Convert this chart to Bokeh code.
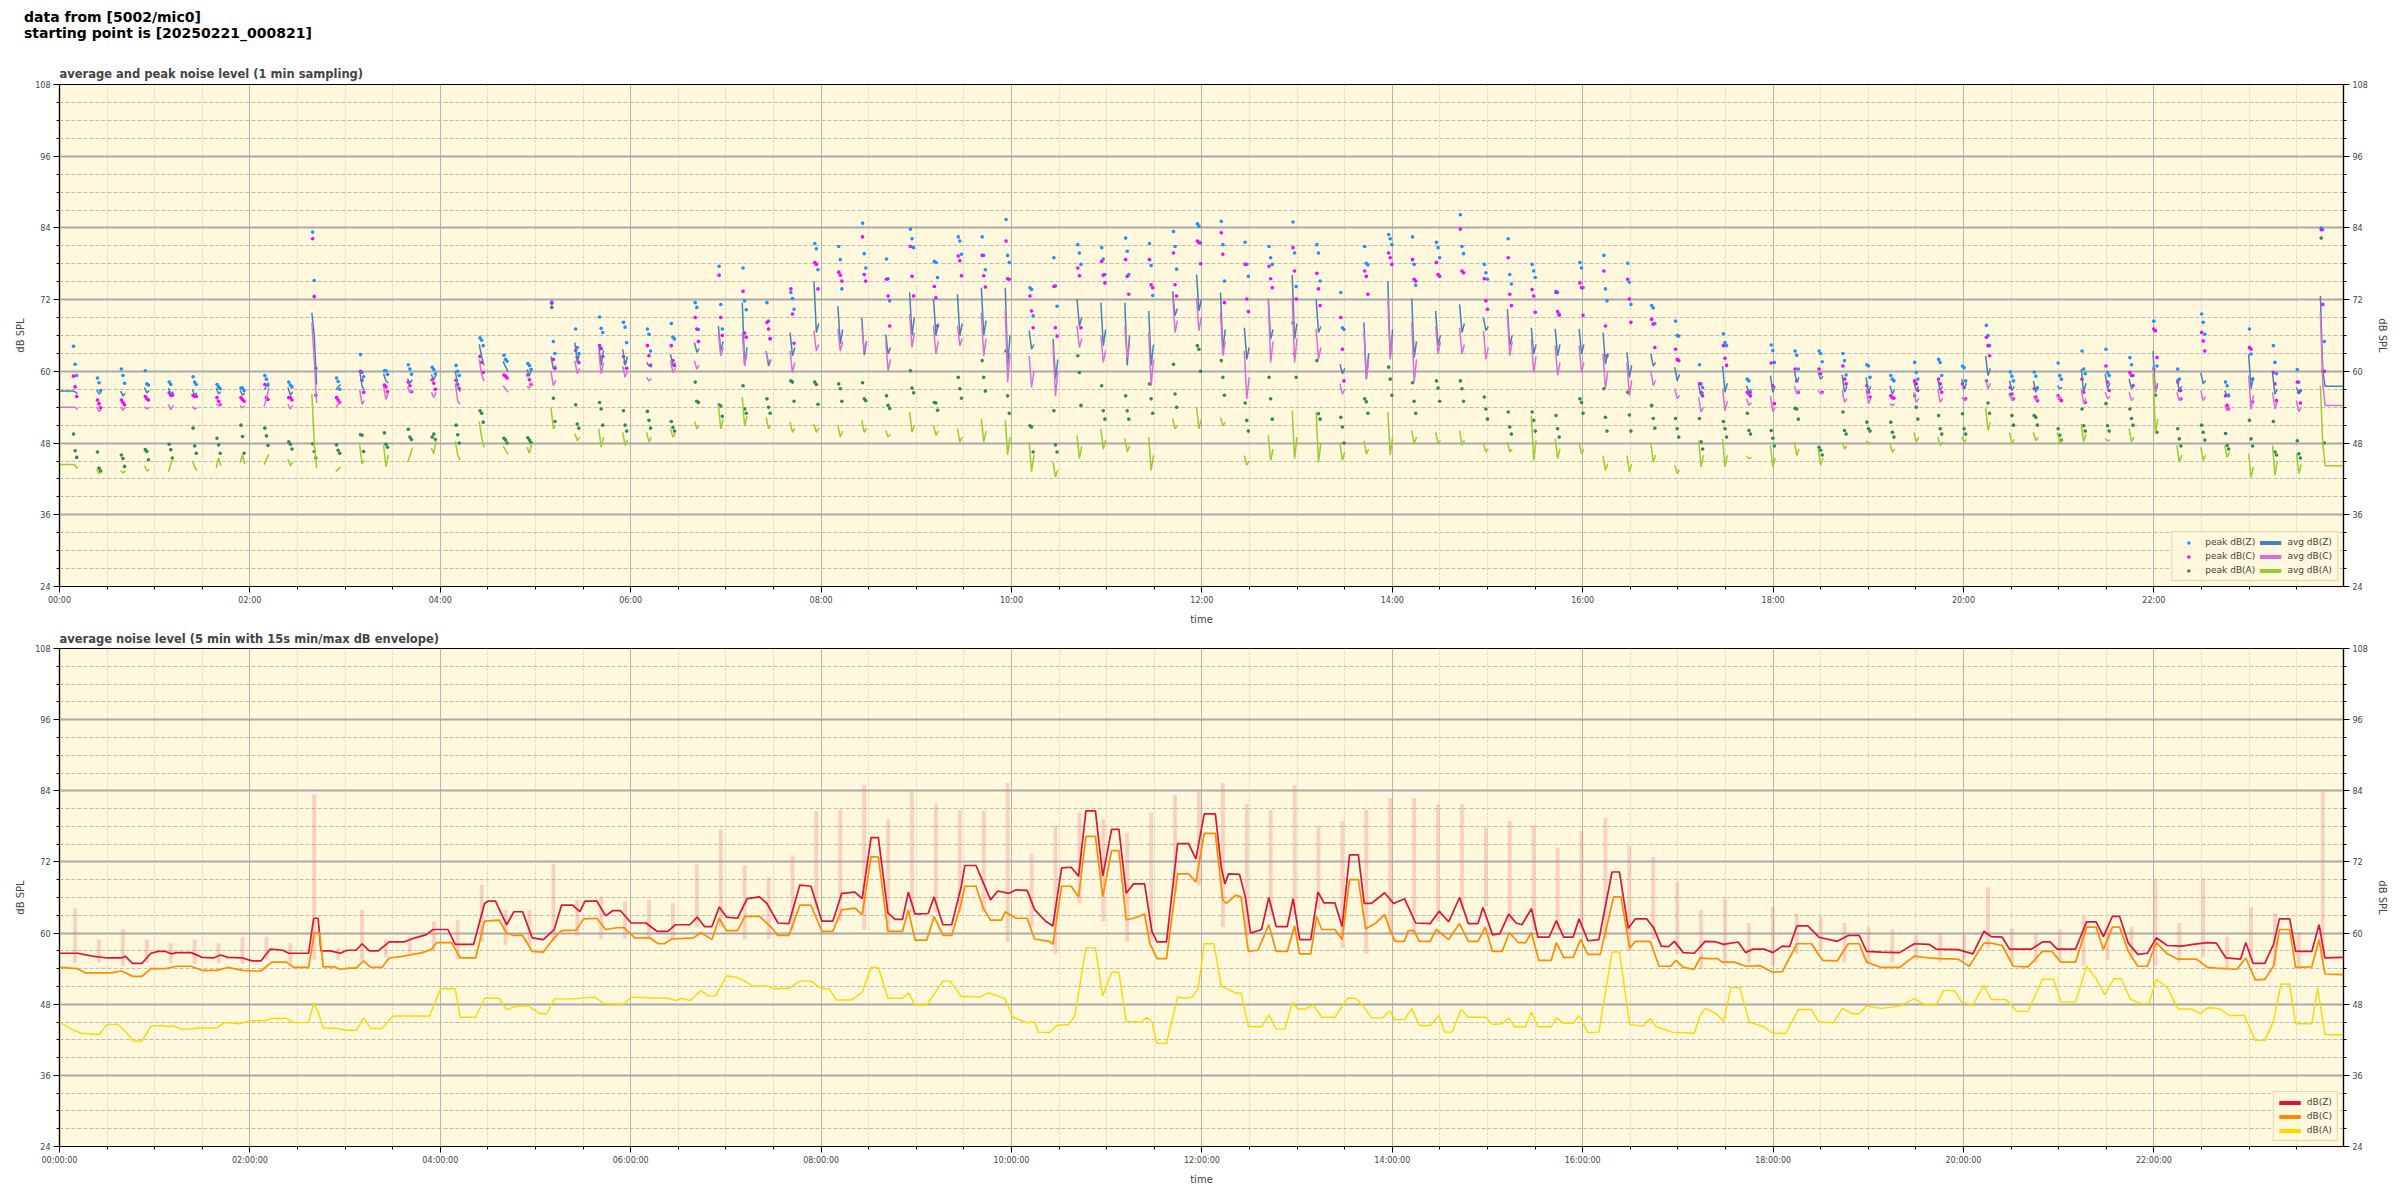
import math
from bokeh.plotting import figure
from bokeh.models import (ColumnDataSource, FixedTicker, LinearAxis, Legend,
                          LegendItem, Div, Range1d)
from bokeh.layouts import column
from bokeh.embed import file_html
from bokeh.resources import INLINE

# ---------------------------------------------------------------- texts
SUPTITLE = ["data from [5002/mic0]", "starting point is [20250221_000821]"]
TITLE_TOP = "average and peak noise level (1 min sampling)"
TITLE_BOT = "average noise level (5 min with 15s min/max dB envelope)"
X_LABEL = "time"
Y_LABEL = "dB SPL"

# ---------------------------------------------------------------- axes
X_TICKS = [0, 120, 240, 360, 480, 600, 720, 840, 960, 1080, 1200, 1320]   # minutes
TOP_TICK_LABELS = ["00:00", "02:00", "04:00", "06:00", "08:00", "10:00",
                   "12:00", "14:00", "16:00", "18:00", "20:00", "22:00"]
BOT_TICK_LABELS = ["00:00:00", "02:00:00", "04:00:00", "06:00:00", "08:00:00", "10:00:00",
                   "12:00:00", "14:00:00", "16:00:00", "18:00:00", "20:00:00", "22:00:00"]
X_MINOR = [m for m in range(30, 1440, 30) if m % 120]
Y_TICKS = [24, 36, 48, 60, 72, 84, 96, 108]
Y_MINOR = [v for v in range(24, 109, 3) if v % 12]
X_END = 1439.5

# ---------------------------------------------------------------- top panel data
# recording bursts (1 min sampling), one every ~15 min starting 00:08
FIRST_BURST_MIN = 8.35
BURST_PERIOD_MIN = 15.07
AVG_OFFS = [0.0, 1.5, 3.0]
PEAK_OFFS = [0.5, 1.5, 2.5]

avg_z = [
    (56.7, 56.6, 56.2), (56.9, 56.2, 56.6), (56.7, 55.9, 56.3), (57.3, 56.4, 56.8), (57.2, 56.2, 56.6),
    (57.0, 56.0, 56.4), (57.2, 56.2, 56.6), (56.8, 56.0, 56.4), (56.9, 57.5, 58.1), (57.3, 56.0, 56.6),
    (69.8, 66.0, 57.8), (56.9, 57.4, 57.8), (60.1, 57.5, 56.8), (59.6, 58.4, 58.0), (58.8, 58.0, 58.6),
    (59.5, 58.6, 59.5), (60.1, 57.5, 56.6), (64.5, 62.5, 61.0), (61.7, 60.8, 60.0), (60.3, 59.2, 60.6),
    (62.5, 60.4, 61.0), (64.8, 61.5, 63.0), (64.3, 61.0, 63.5), (63.7, 61.0, 62.5), (61.5, 60.9, 61.3),
    (62.9, 60.9, 61.5), (64.8, 63.2, 63.8), (67.6, 63.4, 65.0), (71.5, 61.0, 64.0), (63.4, 60.9, 62.0),
    (66.5, 62.6, 64.0), (75.1, 66.5, 68.0), (70.9, 64.6, 67.0), (69.0, 62.7, 65.0), (66.2, 62.9, 64.0),
    (73.2, 66.0, 69.0), (72.1, 66.0, 68.0), (72.9, 66.0, 68.0), (74.0, 66.0, 68.5), (74.0, 61.0, 66.0),
    (66.8, 63.7, 64.5), (65.4, 58.7, 62.0), (72.1, 67.6, 69.0), (71.5, 64.3, 67.0), (71.5, 61.0, 66.0),
    (70.1, 61.0, 64.5), (73.4, 69.3, 70.5), (76.2, 70.1, 72.0), (73.2, 63.7, 67.0), (67.3, 62.0, 64.0),
    (72.2, 65.4, 67.0), (76.1, 65.4, 68.0), (72.1, 66.5, 67.5), (61.2, 59.6, 60.5), (68.2, 58.7, 63.0),
    (75.1, 62.3, 67.0), (72.2, 62.3, 65.0), (70.1, 64.3, 66.0), (71.2, 66.5, 68.0), (69.0, 66.8, 67.5),
    (70.4, 64.3, 66.0), (67.3, 62.9, 64.5), (67.1, 62.6, 64.5), (67.1, 62.9, 64.5), (66.5, 61.2, 63.0),
    (63.2, 59.0, 61.0), (62.9, 60.9, 61.5), (60.7, 58.4, 59.5), (57.6, 55.9, 56.5), (60.9, 56.5, 58.0),
    (57.6, 56.5, 57.0), (59.3, 56.5, 57.5), (60.1, 58.2, 59.0), (59.8, 58.7, 59.2), (59.4, 56.5, 57.5),
    (59.0, 56.5, 57.5), (57.6, 56.2, 57.0), (58.2, 56.8, 57.5), (58.7, 56.8, 57.5), (58.7, 57.1, 58.0),
    (62.6, 59.3, 60.5), (58.4, 56.8, 57.5), (58.4, 56.5, 57.5), (57.6, 57.1, 57.3), (60.4, 56.5, 58.0),
    (59.6, 57.1, 58.0), (58.7, 57.1, 57.8), (63.4, 56.5, 58.0), (58.7, 56.8, 57.5), (59.8, 57.9, 58.5),
    (56.8, 55.9, 56.3), (62.9, 57.1, 59.0), (59.6, 56.2, 57.0), (57.3, 56.2, 56.8), (72.6, 60.0, 57.5),
]
avg_c = [
    (54.0, 54.0, 53.6), (54.0, 53.3, 53.6), (54.0, 53.5, 54.0), (54.1, 53.7, 54.0), (54.5, 53.6, 54.3),
    (54.1, 53.7, 53.9), (54.5, 54.2, 54.6), (54.3, 53.9, 54.2), (54.1, 55.5, 57.3), (54.5, 53.7, 54.3),
    (68.2, 62.0, 54.7), (53.9, 54.5, 54.9), (56.9, 54.5, 55.1), (57.5, 55.3, 56.5), (57.4, 56.4, 56.9),
    (56.5, 55.6, 56.5), (58.0, 55.0, 54.5), (62.0, 59.5, 58.4), (57.6, 57.1, 56.5), (57.5, 57.2, 58.2),
    (60.0, 57.6, 58.5), (61.8, 59.6, 60.5), (63.2, 59.6, 61.5), (60.9, 59.0, 60.0), (59.0, 58.4, 58.8),
    (61.8, 59.8, 60.5), (61.8, 60.4, 61.0), (66.5, 62.6, 64.0), (66.5, 61.0, 63.0), (63.2, 61.5, 62.0),
    (63.4, 59.8, 61.5), (66.8, 63.4, 64.5), (67.1, 63.4, 65.0), (67.6, 63.4, 65.0), (65.1, 60.1, 62.0),
    (69.6, 64.0, 66.5), (67.6, 62.9, 65.0), (67.6, 64.3, 65.5), (69.8, 62.6, 65.5), (70.4, 58.2, 63.0),
    (62.6, 57.3, 60.0), (64.3, 55.9, 60.0), (67.6, 64.0, 65.5), (66.0, 61.5, 63.5), (67.6, 62.3, 64.5),
    (66.5, 57.6, 62.0), (72.9, 66.5, 68.5), (72.3, 66.8, 69.0), (69.8, 62.6, 65.0), (63.4, 55.4, 59.0),
    (72.1, 61.5, 65.0), (72.3, 61.5, 65.5), (67.1, 62.0, 64.0), (57.9, 56.2, 57.0), (66.5, 58.7, 62.0),
    (72.1, 62.0, 66.0), (68.2, 58.2, 62.0), (67.6, 62.9, 65.0), (67.3, 62.9, 64.5), (66.8, 62.0, 64.0),
    (69.6, 62.6, 65.0), (65.4, 59.8, 62.5), (64.3, 59.3, 61.5), (64.3, 59.8, 61.5), (62.9, 57.1, 60.0),
    (61.5, 55.9, 58.5), (60.1, 57.6, 58.5), (57.1, 55.4, 56.0), (55.7, 53.2, 54.0), (57.1, 53.4, 55.0),
    (55.4, 54.3, 54.8), (55.9, 53.2, 54.0), (57.6, 56.2, 57.0), (56.8, 56.2, 56.5), (56.8, 54.8, 55.5),
    (57.1, 54.6, 55.5), (54.6, 54.3, 54.5), (56.5, 54.8, 55.5), (57.1, 54.8, 55.5), (55.7, 55.1, 55.4),
    (58.7, 57.1, 58.0), (56.2, 55.1, 55.6), (55.9, 55.1, 55.5), (55.9, 55.4, 55.6), (57.1, 54.6, 55.5),
    (56.5, 55.4, 55.9), (56.5, 55.1, 55.6), (60.9, 56.5, 57.5), (56.5, 55.1, 55.7), (56.8, 55.1, 55.8),
    (54.3, 53.4, 53.8), (59.3, 53.7, 56.0), (56.5, 53.7, 55.0), (55.1, 53.2, 54.0), (69.8, 58.0, 54.3),
]
avg_a = [
    (44.4, 44.3, 43.7), (43.6, 42.9, 43.2), (43.4, 43.0, 43.3), (44.2, 43.3, 43.6), (43.2, 44.5, 45.4),
    (45.0, 44.0, 43.4), (43.8, 45.5, 44.2), (44.7, 46.0, 44.5), (44.4, 45.3, 46.1), (45.3, 44.2, 44.8),
    (56.2, 48.0, 43.8), (43.2, 43.6, 44.0), (47.7, 44.5, 45.2), (47.7, 44.0, 46.0), (44.8, 45.8, 47.2),
    (47.2, 46.2, 48.5), (48.3, 46.0, 45.1), (51.6, 49.0, 47.3), (47.5, 46.8, 46.1), (47.3, 46.3, 48.0),
    (54.0, 50.4, 51.0), (49.6, 48.4, 49.0), (50.4, 47.3, 49.0), (49.8, 47.6, 48.5), (49.8, 48.2, 49.0),
    (50.4, 49.0, 49.6), (51.6, 50.4, 51.0), (54.5, 50.4, 52.0), (55.7, 50.9, 52.5), (52.3, 50.4, 51.0),
    (51.5, 49.8, 50.5), (51.2, 49.8, 50.5), (51.0, 49.0, 50.0), (51.8, 49.8, 50.5), (50.1, 49.0, 49.5),
    (53.2, 49.8, 51.0), (51.0, 49.3, 50.0), (50.4, 48.2, 49.0), (52.1, 48.2, 50.0), (51.8, 46.0, 49.0),
    (48.2, 43.2, 46.0), (44.8, 42.3, 43.5), (49.3, 45.4, 47.5), (50.4, 47.0, 48.5), (48.8, 46.5, 47.5),
    (49.0, 43.4, 46.0), (52.1, 50.4, 51.0), (54.0, 50.4, 52.0), (52.3, 50.9, 51.5), (45.9, 44.3, 45.0),
    (49.3, 45.1, 47.0), (53.4, 45.4, 49.0), (53.2, 44.8, 48.0), (47.9, 45.1, 46.5), (48.4, 46.2, 47.0),
    (53.2, 46.0, 49.0), (50.1, 47.9, 49.0), (49.8, 47.9, 48.5), (50.1, 47.6, 48.5), (47.9, 46.5, 47.0),
    (48.2, 46.5, 47.0), (52.6, 45.1, 48.5), (48.7, 45.4, 47.0), (47.9, 46.2, 47.0), (45.9, 43.4, 44.5),
    (45.9, 43.2, 44.5), (47.9, 44.8, 46.0), (44.3, 42.9, 43.5), (48.4, 44.0, 46.0), (48.7, 44.0, 46.0),
    (45.9, 45.4, 45.6), (47.6, 44.0, 45.5), (48.2, 45.9, 47.0), (47.0, 44.3, 45.5), (48.2, 47.0, 47.5),
    (48.4, 47.9, 48.1), (47.9, 46.5, 47.0), (49.8, 48.2, 49.0), (49.0, 47.6, 48.2), (49.0, 48.2, 48.6),
    (54.0, 50.1, 51.5), (49.8, 47.9, 48.6), (49.8, 48.4, 49.0), (49.8, 47.9, 48.8), (51.2, 48.2, 49.5),
    (48.7, 48.4, 48.5), (50.4, 48.2, 49.0), (59.6, 49.6, 52.0), (47.6, 44.8, 46.0), (47.3, 45.1, 46.0),
    (47.6, 45.6, 46.5), (46.2, 42.3, 44.0), (47.6, 42.6, 45.0), (46.2, 42.9, 44.5), (57.6, 48.0, 44.2),
]
peak_z = [
    (64.2, 61.2, 59.3), (58.9, 58.1, 56.8), (60.4, 59.3, 58.0), (60.1, 57.9, 57.7), (58.2, 57.8, 56.2),
    (59.1, 58.2, 57.8), (57.8, 57.4, 57.1), (57.2, 57.2, 56.8), (59.3, 58.7, 57.7), (58.2, 57.7, 57.4),
    (83.3, 75.2, 60.5), (58.9, 58.3, 57.0), (62.8, 59.8, 59.1), (60.1, 60.1, 59.5), (61.1, 60.4, 59.5),
    (60.7, 60.3, 59.6), (61.0, 60.0, 59.3), (65.6, 65.2, 64.3), (62.7, 62.0, 61.7), (61.3, 61.0, 60.3),
    (71.6, 65.0, 63.0), (67.1, 64.0, 63.0), (69.1, 67.2, 66.5), (68.2, 67.4, 64.8), (67.1, 66.2, 63.4),
    (68.0, 65.7, 65.4), (71.5, 70.7, 67.0), (77.6, 71.2, 67.1), (77.3, 71.8, 70.3), (71.5, 68.4, 65.4),
    (73.2, 72.2, 70.4), (81.4, 80.5, 77.0), (80.9, 78.7, 73.8), (84.8, 79.7, 77.3), (78.8, 75.5, 71.8),
    (83.8, 82.2, 80.7), (78.4, 78.2, 75.7), (82.5, 81.8, 79.6), (82.5, 79.4, 77.0), (85.4, 79.4, 78.2),
    (74.0, 73.7, 69.3), (79.0, 74.3, 70.9), (81.2, 79.8, 77.9), (80.7, 78.8, 76.2), (82.3, 80.1, 76.2),
    (81.4, 77.7, 72.7), (83.4, 80.9, 77.1), (84.7, 84.3, 81.5), (85.1, 81.2, 75.1), (81.6, 77.9, 75.9),
    (80.9, 79.0, 77.9), (85.0, 79.8, 74.2), (81.2, 79.8, 75.1), (73.2, 67.3, 67.0), (80.9, 78.1, 77.8),
    (82.9, 82.2, 81.2), (82.5, 77.9, 74.4), (81.6, 80.7, 79.0), (86.2, 80.9, 79.7), (77.9, 76.5, 75.4),
    (82.2, 76.2, 74.6), (77.9, 76.8, 75.7), (73.4, 73.2, 69.6), (78.2, 77.3, 74.0), (79.4, 73.8, 71.8),
    (78.1, 74.9, 71.2), (71.0, 70.6, 68.0), (68.4, 66.0, 65.9), (61.1, 57.9, 57.3), (66.3, 64.8, 64.3),
    (58.7, 58.4, 56.5), (64.4, 63.5, 61.5), (63.4, 62.7, 60.4), (63.4, 63.0, 61.6), (63.0, 61.8, 59.4),
    (61.1, 60.9, 59.0), (59.3, 58.7, 58.4), (61.5, 59.8, 58.7), (62.0, 61.5, 59.3), (60.9, 60.6, 58.4),
    (67.7, 66.0, 64.3), (59.9, 59.2, 58.4), (59.9, 59.2, 57.2), (61.4, 59.3, 58.7), (63.4, 60.4, 59.6),
    (63.7, 59.8, 59.3), (62.3, 61.1, 59.3), (68.4, 66.8, 60.9), (60.4, 58.7, 56.8), (69.6, 68.2, 66.2),
    (58.2, 57.6, 55.9), (67.1, 62.9, 58.7), (64.3, 61.5, 59.6), (60.3, 58.2, 56.8), (84.0, 83.7, 65.0),
]
peak_c = [
    (59.2, 57.4, 55.8), (55.2, 54.6, 53.9), (55.2, 54.8, 54.4), (55.8, 55.4, 55.2), (56.4, 56.0, 56.0),
    (56.0, 55.8, 55.8), (55.6, 55.0, 54.4), (55.6, 55.3, 55.0), (57.8, 55.6, 55.3), (55.6, 55.6, 55.2),
    (82.2, 72.5, 56.0), (55.6, 55.2, 54.8), (60.0, 58.5, 56.5), (57.7, 57.4, 56.6), (58.2, 57.6, 56.6),
    (58.6, 58.0, 57.0), (58.5, 57.8, 57.1), (62.5, 61.5, 59.8), (59.4, 59.2, 58.9), (59.4, 58.6, 57.8),
    (71.4, 62.0, 60.5), (63.5, 62.3, 61.5), (64.3, 63.8, 62.5), (62.5, 61.5, 60.5), (64.3, 62.6, 61.0),
    (64.3, 61.8, 61.0), (69.0, 67.1, 65.0), (76.1, 69.0, 66.0), (73.4, 66.4, 65.7), (68.2, 67.1, 65.5),
    (73.8, 69.6, 64.7), (78.2, 77.9, 73.8), (76.6, 76.1, 75.1), (82.5, 76.2, 75.1), (75.4, 72.6, 67.6),
    (80.9, 75.9, 72.6), (74.2, 72.3, 67.6), (79.3, 78.5, 76.0), (79.4, 76.0, 74.1), (81.8, 75.5, 75.4),
    (72.6, 70.1, 67.3), (74.2, 67.3, 65.9), (77.3, 76.0, 67.3), (78.4, 76.1, 74.8), (78.7, 75.9, 72.9),
    (78.7, 74.5, 74.0), (79.8, 74.5, 72.6), (81.8, 81.5, 78.0), (83.2, 79.6, 71.5), (77.9, 72.1, 70.0),
    (77.6, 75.5, 74.0), (80.7, 76.8, 72.1), (76.4, 73.8, 71.0), (69.0, 63.7, 58.4), (76.8, 75.9, 72.9),
    (79.8, 79.0, 77.9), (78.7, 75.4, 75.1), (78.2, 76.2, 75.9), (83.8, 76.8, 76.5), (75.5, 71.8, 70.4),
    (79.0, 72.9, 71.0), (73.7, 72.6, 69.9), (73.2, 70.0, 69.4), (74.8, 74.0, 69.4), (76.8, 67.6, 62.6),
    (75.4, 72.1, 68.2), (68.7, 67.9, 64.0), (63.7, 62.0, 61.8), (57.9, 56.5, 55.9), (64.3, 62.2, 61.0),
    (56.5, 56.2, 55.9), (61.4, 57.6, 54.6), (60.4, 58.4, 56.5), (60.4, 59.6, 56.5), (60.9, 58.7, 57.9),
    (57.6, 56.5, 55.7), (55.9, 55.6, 55.5), (58.4, 57.9, 56.8), (58.7, 57.9, 56.5), (57.9, 57.3, 55.4),
    (65.7, 64.3, 62.6), (57.3, 56.2, 55.4), (57.1, 55.7, 55.1), (55.9, 55.4, 55.1), (58.7, 56.5, 54.8),
    (60.9, 58.2, 56.8), (59.8, 59.3, 57.6), (67.1, 66.8, 62.3), (58.2, 56.8, 55.4), (66.5, 65.1, 63.4),
    (55.9, 54.3, 53.7), (64.0, 63.7, 54.9), (59.8, 57.9, 55.1), (58.2, 56.5, 54.7), (83.7, 71.2, 60.0),
]
peak_a = [
    (49.5, 46.7, 45.6), (46.5, 43.8, 43.3), (46.0, 45.4, 44.1), (46.9, 46.6, 45.2), (47.8, 46.9, 45.5),
    (50.5, 47.5, 46.3), (48.8, 47.7, 46.3), (51.0, 49.1, 46.3), (50.5, 49.2, 47.6), (48.2, 47.8, 47.0),
    (47.9, 46.6, 45.5), (47.7, 46.8, 46.3), (49.4, 49.3, 46.6), (49.7, 47.8, 47.3), (50.3, 49.0, 48.6),
    (49.0, 49.5, 48.6), (51.0, 49.4, 48.0), (53.4, 53.0, 51.5), (48.8, 48.5, 48.0), (48.9, 48.5, 48.1),
    (70.7, 55.5, 51.6), (54.4, 51.2, 50.5), (54.8, 53.7, 51.0), (53.4, 51.0, 50.0), (53.3, 51.8, 50.5),
    (51.6, 50.6, 50.0), (58.2, 55.0, 54.8), (54.4, 54.2, 52.5), (57.6, 53.7, 53.0), (55.4, 54.0, 53.0),
    (58.4, 58.2, 55.0), (58.2, 57.8, 54.5), (57.9, 57.1, 55.0), (58.1, 55.4, 55.1), (55.9, 54.3, 53.8),
    (60.1, 57.2, 56.4), (54.8, 54.7, 53.5), (59.0, 57.1, 55.5), (61.8, 59.0, 56.7), (63.4, 55.9, 53.0),
    (50.9, 50.7, 46.5), (53.4, 47.7, 46.5), (62.6, 59.8, 54.3), (57.6, 53.4, 52.0), (55.9, 53.4, 52.0),
    (57.9, 55.4, 53.0), (61.2, 56.2, 54.0), (64.3, 63.7, 60.0), (61.8, 59.0, 56.0), (54.7, 51.8, 50.0),
    (59.0, 55.4, 52.0), (68.1, 62.9, 59.0), (61.8, 52.9, 52.0), (52.3, 50.7, 48.0), (55.4, 54.9, 53.0),
    (60.7, 58.7, 56.0), (58.1, 55.0, 53.0), (58.4, 57.2, 55.0), (58.4, 57.1, 55.0), (55.7, 53.7, 52.0),
    (53.2, 50.7, 49.5), (53.2, 51.8, 50.0), (52.6, 50.4, 49.0), (55.4, 54.8, 53.0), (57.1, 52.3, 50.0),
    (56.5, 52.7, 50.0), (54.3, 52.1, 50.5), (52.1, 50.4, 49.0), (52.1, 48.2, 47.0), (51.6, 50.4, 49.0),
    (53.0, 50.1, 49.5), (50.1, 48.8, 47.5), (53.8, 53.7, 52.0), (47.3, 46.8, 46.0), (53.2, 50.1, 49.5),
    (51.5, 50.4, 50.0), (51.5, 49.8, 49.0), (55.9, 54.0, 52.0), (52.6, 50.4, 49.5), (52.9, 50.4, 49.5),
    (58.4, 54.7, 53.0), (56.1, 52.6, 51.0), (52.6, 52.3, 51.0), (50.4, 49.3, 48.5), (53.7, 50.9, 50.0),
    (54.6, 50.9, 50.0), (53.7, 52.1, 51.0), (60.4, 56.0, 49.8), (50.4, 48.7, 47.5), (51.0, 49.8, 48.5),
    (49.6, 47.6, 47.0), (51.8, 48.7, 47.5), (51.6, 46.5, 46.0), (48.4, 46.2, 45.5), (82.3, 60.0, 48.0),
]

# ---------------------------------------------------------------- bottom panel data
# 15 s min/max envelope of dB(Z) around each burst
env_hi = [64.2, 58.9, 60.6, 58.9, 58.3, 58.9, 58.3, 59.4, 59.4, 58.3,
          83.4, 57.5, 63.9, 58.9, 59.4, 61.9, 62.2, 68.1, 63.9, 63.9,
          71.7, 65.6, 66.1, 65.3, 65.6, 65.0, 71.6, 77.5, 71.4, 69.4,
          73.1, 80.6, 80.8, 85.0, 79.2, 83.9, 81.7, 80.8, 80.6, 85.3,
          73.3, 78.1, 80.3, 79.2, 76.9, 80.3, 83.3, 83.9, 85.3, 81.7,
          80.8, 85.0, 78.1, 78.9, 80.8, 82.8, 82.8, 81.7, 81.7, 77.8,
          78.9, 78.1, 74.4, 77.2, 79.4, 74.7, 72.8, 68.6, 63.9, 65.8,
          61.7, 64.4, 63.3, 62.8, 61.7, 61.1, 60.6, 59.7, 60.0, 59.7,
          67.7, 60.8, 60.0, 60.6, 62.8, 61.1, 61.1, 68.9, 61.7, 69.2,
          59.4, 64.4, 63.3, 60.0, 83.9]
env_lo = [55.0, 55.0, 54.5, 55.0, 55.0, 54.8, 55.0, 54.8, 55.5, 54.8,
          55.5, 55.5, 55.5, 56.0, 56.5, 57.0, 55.5, 58.5, 58.0, 58.0,
          58.5, 59.5, 59.0, 59.0, 59.0, 59.0, 61.0, 61.0, 59.0, 59.0,
          60.5, 64.0, 62.0, 60.5, 60.5, 63.5, 63.5, 63.5, 63.5, 58.5,
          61.0, 56.5, 65.0, 62.0, 58.5, 58.5, 67.0, 68.0, 61.0, 59.5,
          63.0, 63.0, 64.0, 57.5, 56.5, 60.0, 60.0, 62.0, 64.0, 64.5,
          62.0, 60.5, 60.5, 60.5, 59.0, 57.0, 59.0, 56.5, 54.0, 54.5,
          55.0, 54.5, 56.5, 57.0, 55.0, 55.0, 55.0, 55.5, 55.0, 55.5,
          57.5, 55.0, 55.0, 55.5, 54.5, 55.5, 55.5, 54.5, 55.0, 56.0,
          54.0, 55.0, 54.5, 54.5, 55.5]

# 5-min average lines: (minute of day, dB)
line_z = [
    (0, 56.6), (11.4, 56.6), (20.6, 56.1), (29.9, 55.8), (39.1, 55.8), (41.4, 56.1), (46.0, 54.9), (52.0, 54.9),
    (57.6, 56.6), (62.2, 56.9), (66.8, 56.9), (70.5, 56.5), (73.8, 56.7), (83.0, 56.7), (90.0, 55.9), (96.9, 55.8),
    (101.5, 56.3), (106.1, 55.9), (115.4, 55.8), (121.4, 55.3), (126.9, 55.3), (132.9, 57.3), (140.8, 57.1),
    (144.5, 56.6), (157.0, 56.6), (160.2, 62.5), (163.0, 62.5), (164.8, 57.0), (170.8, 57.0), (176.8, 56.6),
    (181.5, 57.1), (187.0, 57.1), (190.7, 58.2), (195.3, 57.0), (200.9, 57.0), (207.8, 58.5), (217.1, 58.5),
    (224.0, 59.2), (230.9, 59.7), (235.5, 60.6), (244.8, 60.6), (249.4, 58.1), (261.0, 58.1), (267.9, 65.0),
    (270.2, 65.4), (274.8, 65.4), (281.8, 61.4), (286.4, 63.6), (291.9, 63.6), (297.9, 59.2), (304.9, 58.9),
    (311.8, 60.6), (316.4, 64.7), (323.4, 64.7), (328.0, 63.6), (331.2, 65.4), (338.6, 65.4), (344.2, 62.9),
    (348.8, 63.8), (353.4, 63.8), (360.3, 61.7), (369.6, 61.7), (376.5, 60.3), (383.4, 60.3), (388.1, 61.4),
    (397.3, 61.4), (401.9, 62.7), (406.5, 61.1), (411.2, 61.1), (415.8, 64.4), (420.4, 62.7), (427.3, 62.5),
    (433.4, 65.8), (441.2, 66.1), (445.8, 65.0), (452.8, 61.7), (459.7, 61.6), (466.6, 68.1), (473.6, 67.9),
    (480.5, 62.0), (487.4, 62.0), (493.0, 66.7), (501.3, 66.9), (505.9, 65.8), (511.5, 76.1), (516.1, 76.1),
    (522.1, 63.4), (526.7, 62.3), (531.3, 62.3), (535.0, 66.9), (539.2, 63.2), (547.5, 63.3), (551.2, 66.1),
    (556.8, 61.4), (562.3, 61.4), (568.3, 67.8), (570.6, 71.4), (577.6, 71.4), (580.8, 69.4), (586.8, 65.6),
    (591.4, 67.1), (598.4, 66.7), (603.0, 67.3), (609.9, 67.2), (614.5, 64.0), (621.5, 62.0), (626.1, 61.2),
    (631.6, 71.0), (637.6, 71.1), (642.3, 69.6), (646.9, 80.6), (652.9, 80.6), (657.5, 69.6), (663.1, 77.5),
    (667.7, 77.5), (672.3, 66.7), (676.9, 68.3), (683.9, 68.3), (688.5, 60.3), (691.7, 58.5), (697.7, 58.5),
    (704.7, 75.1), (711.6, 75.1), (716.2, 72.5), (721.5, 80.1), (728.5, 80.1), (732.2, 71.1), (734.5, 68.3),
    (736.8, 70.0), (743.7, 69.9), (747.4, 66.1), (750.7, 60.0), (757.6, 60.6), (762.2, 66.0), (766.8, 61.1),
    (773.8, 61.1), (777.5, 65.8), (781.6, 58.9), (788.6, 58.9), (793.2, 66.9), (796.9, 65.1), (803.8, 65.1),
    (808.4, 61.1), (813.1, 73.2), (818.6, 73.2), (822.3, 65.0), (826.9, 65.0), (835.2, 66.8), (840.8, 65.0),
    (847.7, 65.8), (854.7, 61.7), (863.9, 61.6), (869.5, 63.7), (875.5, 61.9), (882.4, 66.0), (887.9, 61.6),
    (894.0, 61.6), (897.2, 64.3), (903.2, 59.7), (907.8, 59.9), (913.4, 63.2), (918.0, 61.7), (921.7, 61.4),
    (927.7, 64.1), (931.8, 59.3), (938.8, 59.3), (943.4, 62.1), (948.0, 59.3), (954.0, 59.3), (957.7, 62.4),
    (963.3, 58.7), (970.2, 58.9), (978.5, 70.3), (983.2, 70.3), (988.7, 60.8), (993.3, 62.4), (1000.3, 62.4),
    (1004.9, 60.8), (1009.5, 57.8), (1014.1, 57.7), (1017.8, 58.6), (1023.4, 56.7), (1030.3, 56.6),
    (1037.2, 58.6), (1044.2, 58.5), (1048.8, 58.1), (1058.0, 58.5), (1062.7, 56.7), (1067.3, 57.3),
    (1074.2, 57.3), (1079.8, 56.7), (1085.8, 57.8), (1090.4, 57.7), (1095.0, 61.2), (1101.9, 61.2),
    (1108.9, 59.3), (1120.4, 58.6), (1127.4, 59.6), (1134.3, 59.6), (1138.9, 56.9), (1148.2, 56.8),
    (1159.7, 56.7), (1169.0, 58.2), (1178.2, 58.1), (1182.8, 57.3), (1196.7, 57.2), (1205.9, 56.5),
    (1212.9, 60.3), (1217.5, 59.4), (1224.4, 59.3), (1229.0, 57.3), (1242.9, 57.3), (1249.8, 58.5),
    (1254.5, 58.5), (1259.1, 57.3), (1270.6, 57.3), (1277.6, 61.9), (1283.6, 61.9), (1288.2, 59.4),
    (1293.8, 62.8), (1298.4, 62.8), (1303.9, 58.3), (1309.9, 56.4), (1315.9, 56.6), (1321.5, 59.2),
    (1328.4, 57.9), (1337.7, 57.8), (1344.6, 58.1), (1353.8, 58.4), (1359.4, 58.3), (1365.4, 55.8),
    (1374.6, 55.6), (1377.9, 58.4), (1382.5, 54.9), (1389.9, 54.9), (1395.4, 58.1), (1399.1, 62.4),
    (1405.6, 62.4), (1409.3, 56.9), (1419.5, 56.9), (1424.1, 61.4), (1427.8, 55.8), (1439.5, 55.9),
]
line_c = [
    (0, 54.2), (11.4, 54.0), (16.0, 53.3), (32.2, 53.3), (39.1, 53.6), (46.0, 52.7), (52.0, 52.7), (57.6, 54.0),
    (66.8, 54.0), (73.8, 54.4), (83.0, 54.4), (90.0, 53.7), (99.2, 53.7), (106.1, 54.2), (115.4, 53.7),
    (122.3, 53.6), (126.9, 53.6), (133.8, 55.1), (143.1, 55.1), (147.7, 54.2), (157.0, 54.2), (160.7, 60.1),
    (163.9, 60.0), (166.2, 54.3), (173.1, 54.3), (176.8, 53.9), (182.4, 54.1), (187.0, 54.1), (191.6, 55.3),
    (196.2, 54.2), (203.2, 54.2), (207.8, 55.8), (217.1, 56.1), (228.6, 56.7), (234.1, 57.2), (237.8, 58.4),
    (247.1, 58.4), (252.6, 55.8), (262.3, 55.8), (267.9, 62.0), (277.1, 62.2), (281.8, 60.0), (286.4, 59.6),
    (291.9, 59.6), (297.9, 56.9), (304.9, 56.8), (311.8, 59.2), (316.4, 60.4), (325.7, 60.5), (330.3, 62.4),
    (338.6, 62.5), (344.2, 60.6), (351.1, 60.9), (355.7, 60.9), (362.6, 59.2), (371.9, 59.2), (377.4, 58.2),
    (381.1, 58.2), (385.8, 59.0), (399.6, 59.2), (404.2, 60.1), (411.2, 58.9), (415.8, 62.5), (420.4, 60.4),
    (427.3, 60.4), (432.0, 62.8), (441.2, 62.8), (448.2, 61.1), (452.8, 59.6), (459.7, 59.6), (466.6, 64.7),
    (473.6, 64.7), (480.5, 60.3), (487.4, 60.3), (493.0, 63.9), (501.3, 64.2), (505.9, 63.1), (511.5, 72.9),
    (516.1, 72.8), (522.1, 60.3), (531.3, 60.3), (535.0, 63.9), (539.2, 58.8), (546.6, 58.8), (551.2, 62.8),
    (556.8, 59.6), (562.3, 59.6), (568.3, 65.0), (570.6, 67.9), (577.6, 67.9), (582.2, 64.2), (586.8, 62.2),
    (593.7, 62.2), (596.0, 63.6), (603.0, 62.5), (609.9, 62.5), (614.5, 59.0), (623.8, 58.6), (626.1, 58.1),
    (631.6, 67.9), (637.6, 67.9), (642.3, 66.1), (646.9, 76.3), (652.9, 76.3), (657.5, 66.1), (663.1, 73.9),
    (667.7, 73.9), (672.3, 62.2), (676.9, 62.5), (683.9, 63.2), (687.1, 58.3), (691.7, 55.7), (697.7, 55.7),
    (704.7, 70.0), (711.6, 70.0), (716.2, 68.6), (721.5, 76.8), (728.5, 76.8), (733.1, 65.6), (735.4, 65.0),
    (741.4, 66.4), (744.7, 66.1), (749.3, 56.9), (755.3, 57.1), (762.2, 61.4), (766.8, 56.9), (773.8, 56.9),
    (778.4, 61.2), (781.6, 56.5), (788.6, 56.5), (792.3, 62.8), (795.5, 60.6), (803.8, 60.6), (808.4, 58.9),
    (813.1, 69.0), (818.6, 69.0), (823.2, 60.7), (829.2, 61.6), (835.2, 63.1), (838.5, 60.6), (841.7, 58.6),
    (847.7, 58.6), (850.0, 60.4), (853.7, 60.4), (857.0, 58.6), (863.9, 58.6), (867.6, 60.6), (875.5, 58.9),
    (882.4, 61.6), (887.9, 58.6), (894.0, 58.6), (898.6, 61.0), (903.2, 56.9), (909.2, 56.9), (913.8, 60.1),
    (919.4, 58.4), (924.0, 58.4), (927.7, 60.1), (932.3, 55.4), (940.2, 55.4), (943.4, 58.4), (948.0, 55.9),
    (954.0, 55.9), (958.7, 58.9), (963.3, 56.4), (971.1, 56.4), (979.5, 66.1), (984.1, 66.1), (989.6, 57.5),
    (993.3, 58.6), (1002.6, 58.6), (1008.1, 54.4), (1015.5, 54.4), (1018.7, 55.4), (1023.4, 54.2),
    (1030.3, 53.9), (1034.0, 55.8), (1038.6, 55.7), (1045.1, 55.7), (1047.9, 55.1), (1055.7, 55.1),
    (1062.7, 54.4), (1071.9, 54.5), (1079.8, 53.4), (1085.8, 53.5), (1095.0, 58.2), (1104.2, 58.2),
    (1111.2, 55.4), (1120.4, 55.3), (1127.4, 58.2), (1134.3, 58.2), (1138.9, 55.1), (1148.2, 54.2),
    (1159.7, 54.2), (1169.0, 56.1), (1178.2, 55.8), (1185.1, 55.7), (1196.7, 55.6), (1203.6, 54.4),
    (1212.9, 58.3), (1217.5, 58.3), (1224.4, 57.9), (1231.4, 54.4), (1240.6, 54.3), (1249.8, 56.9),
    (1255.8, 56.9), (1261.4, 55.1), (1270.6, 55.1), (1277.6, 61.0), (1283.6, 61.0), (1288.2, 57.2),
    (1293.8, 61.0), (1298.4, 61.0), (1303.9, 56.9), (1309.9, 54.4), (1315.9, 54.4), (1321.5, 58.4),
    (1328.4, 56.5), (1335.3, 55.6), (1346.9, 55.6), (1353.8, 54.2), (1359.4, 54.1), (1372.3, 53.9),
    (1377.9, 55.8), (1383.9, 52.1), (1389.9, 52.2), (1395.4, 54.4), (1399.1, 60.6), (1405.6, 60.6),
    (1409.3, 54.2), (1419.5, 54.3), (1424.1, 58.9), (1427.8, 53.1), (1439.5, 53.0),
]
line_a = [
    (0, 45.0), (6.7, 43.9), (13.7, 43.1), (25.2, 42.9), (29.9, 44.6), (36.8, 44.6), (43.7, 42.8), (46.0, 41.8),
    (52.0, 41.8), (57.6, 44.3), (64.5, 44.4), (69.1, 44.2), (71.5, 44.4), (77.0, 43.8), (83.0, 43.8),
    (87.6, 44.0), (99.2, 44.0), (103.8, 44.9), (113.1, 44.7), (120.0, 45.2), (129.2, 45.2), (133.8, 45.6),
    (143.1, 45.6), (147.7, 44.9), (157.0, 44.9), (160.2, 48.2), (163.0, 46.7), (166.2, 44.0), (175.4, 43.9),
    (180.1, 43.6), (187.0, 43.6), (191.6, 45.7), (196.2, 43.9), (203.2, 43.9), (210.1, 46.0), (233.2, 46.0),
    (240.2, 50.6), (249.4, 50.6), (252.6, 45.8), (262.3, 45.8), (267.9, 49.0), (277.1, 49.0), (281.8, 47.1),
    (288.7, 47.7), (295.6, 47.7), (302.6, 46.4), (307.2, 46.4), (311.8, 48.9), (323.4, 48.9), (337.2, 49.2),
    (343.2, 48.1), (355.7, 48.0), (360.3, 49.2), (369.6, 49.1), (383.4, 49.0), (388.1, 48.6), (392.7, 49.0),
    (397.3, 48.6), (404.2, 50.3), (408.9, 49.4), (413.5, 49.4), (420.4, 52.8), (427.3, 52.5), (432.0, 51.9),
    (436.6, 51.1), (445.8, 51.1), (450.5, 50.6), (459.7, 50.7), (466.6, 51.9), (473.6, 51.9), (480.5, 50.6),
    (485.1, 50.6), (489.7, 48.7), (499.0, 48.7), (505.9, 50.0), (511.5, 54.2), (516.1, 54.2), (522.1, 49.0),
    (531.3, 49.0), (535.0, 49.9), (539.2, 47.9), (546.6, 47.9), (556.8, 51.9), (561.4, 51.9), (568.3, 49.3),
    (572.9, 49.3), (579.9, 49.2), (585.4, 49.9), (591.4, 49.4), (596.0, 48.9), (600.7, 45.8), (609.9, 44.9),
    (614.5, 45.0), (616.8, 43.3), (623.8, 43.2), (628.4, 44.4), (636.3, 44.6), (640.0, 46.1), (646.9, 57.5),
    (652.9, 57.5), (657.5, 49.4), (663.1, 53.4), (667.7, 53.4), (672.3, 45.1), (681.6, 45.0), (685.3, 45.8),
    (688.5, 45.0), (691.7, 41.4), (697.7, 41.4), (704.7, 49.2), (709.3, 49.0), (713.9, 49.2), (717.6, 50.6),
    (721.5, 58.2), (727.6, 58.2), (732.2, 51.0), (741.4, 49.9), (744.7, 49.9), (749.3, 44.2), (757.6, 44.2),
    (762.2, 46.2), (766.8, 43.8), (772.4, 43.8), (777.0, 48.3), (780.7, 47.2), (785.3, 47.2), (790.0, 47.9),
    (795.5, 45.8), (803.8, 45.8), (811.7, 49.0), (816.8, 49.0), (821.4, 47.8), (826.9, 45.7), (833.9, 45.7),
    (838.5, 46.9), (841.7, 45.4), (847.7, 45.4), (852.3, 47.3), (857.0, 44.4), (863.9, 44.4), (869.5, 46.1),
    (873.1, 43.3), (877.8, 43.3), (883.3, 47.1), (887.9, 45.8), (898.6, 45.8), (903.2, 44.6), (909.2, 44.7),
    (913.4, 45.7), (917.1, 44.2), (924.0, 44.2), (927.7, 46.7), (931.8, 44.2), (940.2, 44.2), (943.4, 45.7),
    (948.0, 44.8), (954.0, 44.8), (957.7, 46.1), (963.3, 43.2), (970.2, 43.3), (978.5, 56.8), (983.2, 56.8),
    (989.6, 44.6), (997.9, 44.3), (1002.6, 45.6), (1006.3, 44.2), (1016.4, 43.3), (1030.3, 43.1),
    (1034.0, 46.1), (1037.2, 47.3), (1044.2, 46.4), (1048.8, 45.1), (1053.4, 50.8), (1059.0, 50.8),
    (1065.0, 45.0), (1074.2, 44.2), (1079.8, 43.1), (1088.1, 43.1), (1095.9, 47.1), (1104.2, 47.1),
    (1108.9, 45.0), (1118.1, 44.9), (1123.7, 47.3), (1129.7, 46.4), (1134.3, 46.4), (1138.9, 47.7),
    (1148.2, 47.3), (1155.1, 47.5), (1159.7, 47.7), (1169.0, 48.9), (1175.9, 47.9), (1182.8, 47.9),
    (1187.4, 50.3), (1194.4, 50.3), (1199.0, 48.3), (1205.9, 47.9), (1212.9, 51.2), (1217.5, 48.8),
    (1226.7, 48.8), (1233.7, 46.8), (1240.6, 46.8), (1249.8, 52.2), (1256.8, 52.2), (1261.4, 48.4),
    (1270.6, 48.4), (1277.6, 54.4), (1283.6, 52.3), (1289.1, 49.6), (1294.7, 52.3), (1299.3, 52.3),
    (1305.3, 48.8), (1312.2, 48.1), (1316.9, 48.1), (1321.5, 52.2), (1328.4, 50.8), (1335.3, 47.2),
    (1343.7, 47.2), (1349.2, 46.4), (1353.8, 47.4), (1360.8, 47.3), (1367.7, 46.1), (1377.0, 46.1),
    (1383.9, 41.9), (1389.9, 41.9), (1395.4, 45.1), (1400.1, 51.4), (1405.6, 51.4), (1409.3, 44.7),
    (1419.5, 44.7), (1423.2, 50.7), (1427.8, 42.9), (1439.5, 42.8),
]

# ---------------------------------------------------------------- style
FONT = "DejaVu Sans"
BG = "#fff8dc"
C_PEAK = {"Z": "#1e90ff", "C": "#ff00ff", "A": "#2e8b57"}
C_AVG = {"Z": "#4682b4", "C": "#da70d6", "A": "#9acd32"}
C_LINE = {"Z": "#dc143c", "C": "#ff8c00", "A": "#ffd700"}

NAN = float("nan")
t_burst = [FIRST_BURST_MIN + k * BURST_PERIOD_MIN for k in range(len(avg_z))]


def burst_line(series):
    xs, ys = [0.0], [series[0][0]]
    for k, (t, vals) in enumerate(zip(t_burst, series)):
        if k > 0:
            xs.append(NAN)
            ys.append(NAN)
        xs += [t + o for o in AVG_OFFS]
        ys += list(vals)
    xs.append(X_END)
    ys.append(series[-1][-1])
    return xs, ys


def burst_points(series):
    xs, ys = [], []
    for t, vals in zip(t_burst, series):
        xs += [t + o for o in PEAK_OFFS]
        ys += list(vals)
    return xs, ys


def make_fig(height, top, bottom, title, standoff):
    p = figure(width=2392, height=height, x_range=Range1d(0, X_END), y_range=Range1d(24, 108),
               output_backend="svg", toolbar_location=None, title=title,
               min_border_left=59, min_border_right=49, min_border_top=top, min_border_bottom=bottom,
               background_fill_color=BG, border_fill_color="white")
    p.title.text_font = FONT
    p.title.text_font_size = "11.5px"
    p.title.text_font_style = "bold"
    p.title.align = "left"
    p.title.standoff = standoff
    p.outline_line_color = "black"
    p.outline_line_width = 1.2
    return p


def style_axes(p, xlabels):
    xt = FixedTicker(ticks=X_TICKS, minor_ticks=X_MINOR)
    yt = FixedTicker(ticks=Y_TICKS, minor_ticks=Y_MINOR)
    p.xaxis.ticker = xt
    p.xaxis.major_label_overrides = {t: s for t, s in zip(X_TICKS, xlabels)}
    p.xaxis.axis_label = X_LABEL
    p.yaxis.ticker = yt
    p.yaxis.axis_label = Y_LABEL
    right = LinearAxis(ticker=FixedTicker(ticks=Y_TICKS, minor_ticks=Y_MINOR), axis_label=Y_LABEL)
    p.add_layout(right, "right")
    for ax in (p.xaxis[0], p.yaxis[0], right):
        ax.axis_line_color = "black"
        ax.axis_line_width = 1.2
        ax.major_tick_line_color = "black"
        ax.minor_tick_line_color = "black"
        ax.major_tick_out = 6
        ax.major_tick_in = 0
        ax.minor_tick_out = 3
        ax.minor_tick_in = 0
        ax.major_label_text_font = FONT
        ax.major_label_text_font_size = "8px"
        ax.major_label_standoff = 3
        ax.axis_label_text_font = FONT
        ax.axis_label_text_font_size = "10px"
        ax.axis_label_text_font_style = "normal"
        ax.axis_label_standoff = 6
    p.xgrid.ticker = xt
    p.ygrid.ticker = yt
    p.xgrid.grid_line_color = "#b4b4b4"
    p.xgrid.grid_line_width = 1
    p.xgrid.minor_grid_line_color = "#cfc8b8"
    p.xgrid.minor_grid_line_dash = "2 2"
    p.xgrid.minor_grid_line_width = 0.8
    p.ygrid.grid_line_color = "#aaaaaa"
    p.ygrid.grid_line_width = 2
    p.ygrid.minor_grid_line_color = "#b8b4aa"
    p.ygrid.minor_grid_line_dash = "4 2"
    p.ygrid.minor_grid_line_width = 0.9


def style_legend(leg, nrows):
    leg.location = "bottom_right"
    leg.nrows = nrows
    leg.label_text_font = FONT
    leg.label_text_font_size = "9px"
    leg.label_height = 9
    leg.glyph_height = 9
    leg.glyph_width = 22
    leg.label_standoff = 6
    leg.spacing = 4
    leg.padding = 5
    leg.margin = 5
    leg.border_line_color = "#d2b48c"
    leg.border_line_width = 1
    leg.background_fill_color = BG
    leg.background_fill_alpha = 0.85


# ---------------------------------------------------------------- top figure
p1 = make_fig(571, 28, 39, TITLE_TOP, 7)
style_axes(p1, TOP_TICK_LABELS)

items = []
for key, ser in (("Z", peak_z), ("C", peak_c), ("A", peak_a)):
    xs, ys = burst_points(ser)
    p1.scatter(xs, ys, marker="circle", size=3.6, fill_color=C_PEAK[key], line_color=None)
    # hidden copy with a larger marker, used only for the legend swatch
    r = p1.scatter(xs, ys, marker="circle", size=6, fill_color=C_PEAK[key], line_color=None, visible=False)
    items.append(LegendItem(label="peak dB(%s)" % key, renderers=[r]))
for key, ser in (("Z", avg_z), ("C", avg_c), ("A", avg_a)):
    xs, ys = burst_line(ser)
    p1.line(xs, ys, line_color=C_AVG[key], line_width=1.5)
    r = p1.line(xs, ys, line_color=C_AVG[key], line_width=4, visible=False)
    items.append(LegendItem(label="avg dB(%s)" % key, renderers=[r]))
leg1 = Legend(items=items)
style_legend(leg1, 3)
p1.add_layout(leg1)

# ---------------------------------------------------------------- bottom figure
p2 = make_fig(560, 19, 37, TITLE_BOT, 5)
style_axes(p2, BOT_TICK_LABELS)

p2.vbar(x=[t + 1.5 for t in t_burst], width=2.4, bottom=env_lo, top=env_hi,
        fill_color="#f08080", fill_alpha=0.32, line_color=None)
items2 = []
for key, pts in (("Z", line_z), ("C", line_c), ("A", line_a)):
    xs = [a for a, _ in pts]
    ys = [b for _, b in pts]
    p2.line(xs, ys, line_color=C_LINE[key], line_width=1.7 if key != "A" else 1.4)
    r = p2.line(xs, ys, line_color=C_LINE[key], line_width=4, visible=False)
    items2.append(LegendItem(label="dB(%s)" % key, renderers=[r]))
leg2 = Legend(items=items2)
style_legend(leg2, 3)
p2.add_layout(leg2)

# ---------------------------------------------------------------- page
head = Div(text=('<div style="font-family:\'DejaVu Sans\';font-weight:bold;font-size:14px;'
                 'line-height:16px;padding:9px 0 0 24px;color:black;white-space:nowrap">'
                 + "<br>".join(SUPTITLE) + "</div>"),
           width=2392, height=56, margin=(0, 0, 0, 0))

page = column(head, p1, p2, spacing=0)
open("out.html", "w").write(file_html(page, INLINE))
